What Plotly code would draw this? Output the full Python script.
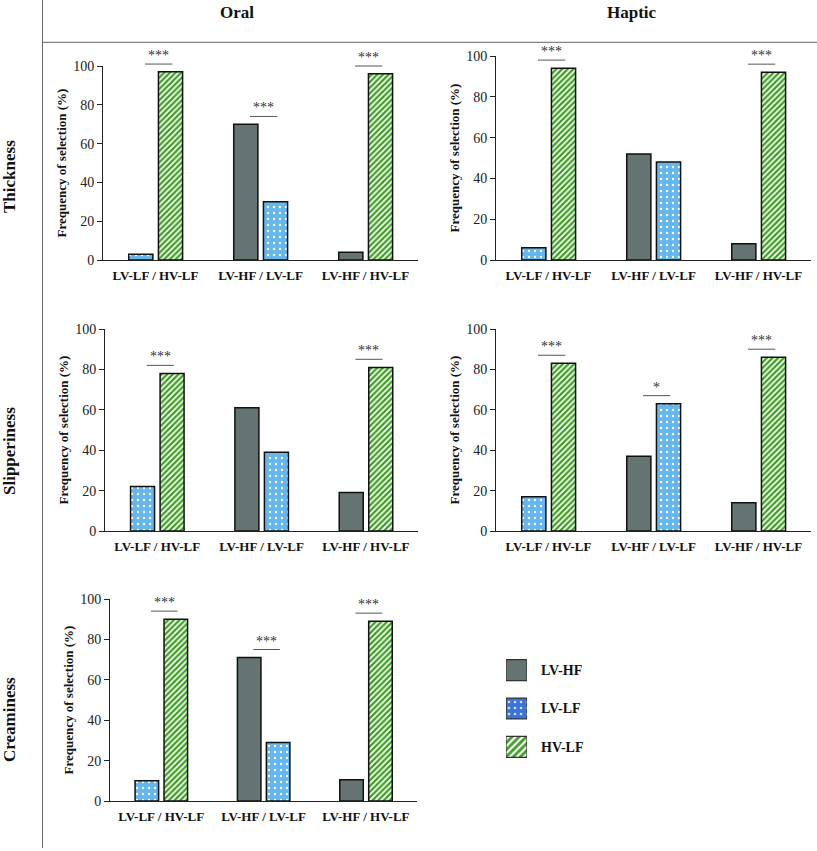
import plotly.graph_objects as go

W, H = 817, 851

categories = ["LV-LF / HV-LF", "LV-HF / LV-LF", "LV-HF / HV-LF"]
series = ["LV-HF", "LV-LF", "HV-LF"]
columns = ["Oral", "Haptic"]
rows = ["Thickness", "Slipperiness", "Creaminess"]

# Frequency of selection (%) per panel; None = series not in that comparison
thick_oral_lvhf = [None, 70, 4]
thick_oral_lvlf = [3, 30, None]
thick_oral_hvlf = [97, None, 96]
thick_oral_sig = ["***", "***", "***"]

thick_haptic_lvhf = [None, 52, 8]
thick_haptic_lvlf = [6, 48, None]
thick_haptic_hvlf = [94, None, 92]
thick_haptic_sig = ["***", "", "***"]

slip_oral_lvhf = [None, 61, 19]
slip_oral_lvlf = [22, 39, None]
slip_oral_hvlf = [78, None, 81]
slip_oral_sig = ["***", "", "***"]

slip_haptic_lvhf = [None, 37, 14]
slip_haptic_lvlf = [17, 63, None]
slip_haptic_hvlf = [83, None, 86]
slip_haptic_sig = ["***", "*", "***"]

cream_oral_lvhf = [None, 71, 10.5]
cream_oral_lvlf = [10, 29, None]
cream_oral_hvlf = [90, None, 89]
cream_oral_sig = ["***", "***", "***"]

y_ticks = [0, 20, 40, 60, 80, 100]

FONT = "Liberation Serif"
GREY = "#637472"
BLUE = "#66b6ee"
GREEN = "#3f9f24"

styles = {
    "LV-HF": dict(color=GREY, pattern=dict(shape="")),
    "LV-LF": dict(color=BLUE, pattern=dict(shape=".", fgcolor="white", bgcolor=BLUE,
                                            size=6, solidity=0.12, fillmode="replace")),
    "HV-LF": dict(color="white", pattern=dict(shape="/", fgcolor=GREEN, bgcolor="white",
                                               size=4, solidity=0.58, fillmode="replace")),
}
legend_styles = {
    "LV-HF": dict(color=GREY, pattern=dict(shape="")),
    "LV-LF": dict(color="#3a74d6", pattern=dict(shape=".", fgcolor="#cfe0ff", bgcolor="#3a74d6",
                                                 size=6, solidity=0.15, fillmode="replace")),
    "HV-LF": dict(color="white", pattern=dict(shape="/", fgcolor=GREEN, bgcolor="white",
                                               size=5, solidity=0.55, fillmode="replace")),
}

panels = [
    # (axis index, row, col, data, sig, domain px x, domain px y)
    (1, 0, 0, [thick_oral_lvhf, thick_oral_lvlf, thick_oral_hvlf], thick_oral_sig, (103, 418), (66, 260)),
    (2, 0, 1, [thick_haptic_lvhf, thick_haptic_lvlf, thick_haptic_hvlf], thick_haptic_sig, (496, 811), (56, 260)),
    (3, 1, 0, [slip_oral_lvhf, slip_oral_lvlf, slip_oral_hvlf], slip_oral_sig, (105, 418), (329, 531)),
    (4, 1, 1, [slip_haptic_lvhf, slip_haptic_lvlf, slip_haptic_hvlf], slip_haptic_sig, (496, 811), (329, 531)),
    (5, 2, 0, [cream_oral_lvhf, cream_oral_lvlf, cream_oral_hvlf], cream_oral_sig, (110, 417), (599, 801)),
]

BAR_W = 0.23
SLOT_OFFSETS = [-0.255, 0.028]
Y_MAX = 100

fig = go.Figure()
layout = {}
shapes = []
annotations = []

for idx, r, c, data, sig, (x0, x1), (y0, y1) in panels:
    xa = "x" if idx == 1 else f"x{idx}"
    ya = "y" if idx == 1 else f"y{idx}"
    xdom = [x0 / W, x1 / W]
    ydom = [1 - y1 / H, 1 - y0 / H]
    # slot per bar: order of present series within each category
    slots = [[None] * len(categories) for _ in series]
    for ci in range(len(categories)):
        present = [si for si in range(len(series)) if data[si][ci] is not None]
        for k, si in enumerate(present):
            slots[si][ci] = k
    for si, name in enumerate(series):
        offs = [SLOT_OFFSETS[s] if s is not None else 0 for s in slots[si]]
        st = styles[name]
        fig.add_trace(go.Bar(
            x=categories, y=data[si], name=name, xaxis=xa, yaxis=ya,
            offset=offs, width=[BAR_W] * len(categories),
            marker=dict(color=st["color"], pattern=st["pattern"],
                        line=dict(color="#111111", width=1.5)),
            showlegend=False, hoverinfo="skip",
        ))
    layout["xaxis" if idx == 1 else f"xaxis{idx}"] = dict(
        domain=xdom, anchor=ya, type="category", automargin=False,
        range=[-0.5, len(categories) - 0.5], showline=True, linecolor="#222222",
        linewidth=1, ticks="", showgrid=False, zeroline=False,
        tickfont=dict(family=FONT, size=13, color="#111111", weight="bold"),
        ticklabelstandoff=3, fixedrange=True,
    )
    layout["yaxis" if idx == 1 else f"yaxis{idx}"] = dict(
        domain=ydom, anchor=xa, range=[0, Y_MAX], automargin=False,
        tickvals=y_ticks, showline=True, linecolor="#222222", linewidth=1,
        ticks="outside", ticklen=5, tickcolor="#222222", showgrid=False,
        zeroline=False, tickfont=dict(family=FONT, size=14, color="#222222"),
        title=dict(text="Frequency of selection (%)",
                   font=dict(family=FONT, size=13, color="#111111", weight="bold"),
                   standoff=3),
        fixedrange=True,
    )

    # significance markers, converted from data units to paper units so they may sit above 100
    def px_x(v):
        return xdom[0] + (v + 0.5) / len(categories) * (xdom[1] - xdom[0])

    def px_y(v):
        return ydom[0] + v / Y_MAX * (ydom[1] - ydom[0])

    for ci, label in enumerate(sig):
        if not label:
            continue
        top = max(v[ci] for v in data if v[ci] is not None)
        ly = px_y(top + 4)
        shapes.append(dict(type="line", xref="paper", yref="paper",
                           x0=px_x(ci - 0.1), x1=px_x(ci + 0.16), y0=ly, y1=ly,
                           line=dict(color="#555555", width=1)))
        annotations.append(dict(xref="paper", yref="paper", x=px_x(ci + 0.03), y=ly, text=label,
                                showarrow=False, xanchor="center", yanchor="bottom", yshift=-1,
                                font=dict(family=FONT, size=14, color="#333333")))

# legend drawn as a small horizontal bar chart
legend_x = (506, 527)
legend_y = (651, 766)
for name in series:
    st = legend_styles[name]
    fig.add_trace(go.Bar(
        y=[name], x=[1], orientation="h", xaxis="x6", yaxis="y6", width=0.545,
        marker=dict(color=st["color"], pattern=st["pattern"],
                    line=dict(color="#333333", width=1.2)),
        showlegend=False, hoverinfo="skip",
    ))
layout["xaxis6"] = dict(domain=[legend_x[0] / W, legend_x[1] / W], anchor="y6", range=[0, 1],
                        visible=False, fixedrange=True, automargin=False)
layout["yaxis6"] = dict(domain=[1 - legend_y[1] / H, 1 - legend_y[0] / H], anchor="x6",
                        type="category", categoryorder="array", categoryarray=series,
                        autorange="reversed", side="right", showline=False, ticks="",
                        showgrid=False, zeroline=False, ticklabelstandoff=13, automargin=False,
                        tickfont=dict(family=FONT, size=14, color="#111111", weight="bold"),
                        fixedrange=True)

# frame lines
shapes.append(dict(type="line", xref="paper", yref="paper", x0=42.5 / W, x1=42.5 / W,
                   y0=1 - 848 / H, y1=1, line=dict(color="#666666", width=1)))
shapes.append(dict(type="line", xref="paper", yref="paper", x0=42.5 / W, x1=1,
                   y0=1 - 42.3 / H, y1=1 - 42.3 / H, line=dict(color="#666666", width=1)))

# column and row headers
for name, cx in zip(columns, [237, 632]):
    annotations.append(dict(xref="paper", yref="paper", x=cx / W, y=1 - 13 / H, text=name,
                            showarrow=False, xanchor="center", yanchor="middle",
                            font=dict(family=FONT, size=17, color="#111111", weight="bold")))
for name, cy in zip(rows, [177, 451, 720]):
    annotations.append(dict(xref="paper", yref="paper", x=9 / W, y=1 - cy / H, text=name,
                            showarrow=False, xanchor="center", yanchor="middle", textangle=-90,
                            font=dict(family=FONT, size=17, color="#111111", weight="bold")))

fig.update_layout(
    template="none",
    width=W, height=H, margin=dict(l=0, r=0, t=0, b=0, pad=0, autoexpand=False),
    paper_bgcolor="white", plot_bgcolor="white", barmode="overlay",
    showlegend=False, shapes=shapes, annotations=annotations, **layout,
)

post = (
    "var de=document.documentElement, b=document.body;"
    "de.style.margin='0';de.style.padding='0';de.style.overflow='hidden';"
    "b.style.margin='0';b.style.padding='0';b.style.overflow='hidden';"
    "var gd=document.getElementById('{plot_id}');"
    "gd.style.position='fixed';gd.style.left='0px';gd.style.top='0px';"
)
fig.write_html("out.html", config={"displayModeBar": False}, post_script=post)
